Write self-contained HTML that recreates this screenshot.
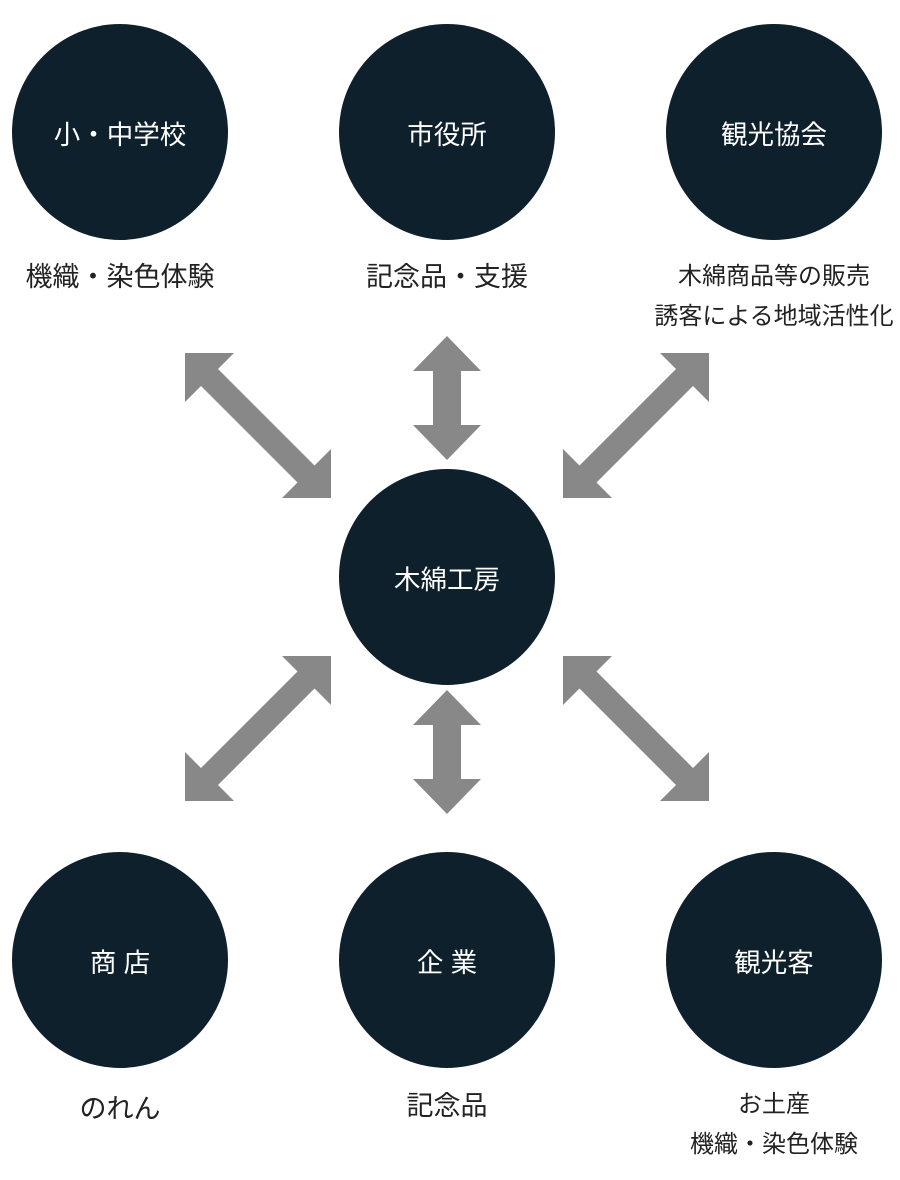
<!DOCTYPE html><html><head><meta charset="utf-8"><style>
body{margin:0;width:900px;height:1180px;background:#fff;position:relative;overflow:hidden;font-family:"Liberation Sans","Noto Sans CJK JP",sans-serif}
.c{position:absolute;width:216px;height:216px;border-radius:50%;background:#0f202d;color:#fff;font-size:26.5px;display:flex;align-items:center;justify-content:center}
.l{position:absolute;width:300px;text-align:center;font-size:27px;color:#222;line-height:40px}
.s{font-size:24px}
</style></head><body>
<svg width="900" height="1180" style="position:absolute;left:0;top:0" fill="#888">
<polygon points="185,353 234,353 218,369 314.5,465.5 331,449 331,498 282,498 297.5,482.5 201,386 185,402"/>
<polygon transform="translate(894,0) scale(-1,1)" points="185,353 234,353 218,369 314.5,465.5 331,449 331,498 282,498 297.5,482.5 201,386 185,402"/>
<polygon transform="translate(0,1154) scale(1,-1)" points="185,353 234,353 218,369 314.5,465.5 331,449 331,498 282,498 297.5,482.5 201,386 185,402"/>
<polygon transform="translate(894,1154) scale(-1,-1)" points="185,353 234,353 218,369 314.5,465.5 331,449 331,498 282,498 297.5,482.5 201,386 185,402"/>
<polygon points="447,336 481,371 461,371 461,425 481,425 447,460 413,425 433,425 433,371 413,371"/>
<polygon transform="translate(0,354)" points="447,336 481,371 461,371 461,425 481,425 447,460 413,425 433,425 433,371 413,371"/>
</svg>
<div class="c" style="left:12px;top:24px">小・中学校</div>
<div class="c" style="left:339px;top:24px">市役所</div>
<div class="c" style="left:666px;top:24px">観光協会</div>
<div class="c" style="left:339px;top:469px">木綿工房</div>
<div class="c" style="left:12px;top:852px">商 店</div>
<div class="c" style="left:339px;top:852px">企 業</div>
<div class="c" style="left:666px;top:852px">観光客</div>
<div class="l" style="left:-30px;top:257px">機織・染色体験</div>
<div class="l" style="left:297px;top:257px">記念品・支援</div>
<div class="l s" style="left:624px;top:257px">木綿商品等の販売<br>誘客による地域活性化</div>
<div class="l" style="left:-30px;top:1089px">のれん</div>
<div class="l" style="left:297px;top:1086px">記念品</div>
<div class="l s" style="left:624px;top:1085px">お土産<br>機織・染色体験</div>
</body></html>
